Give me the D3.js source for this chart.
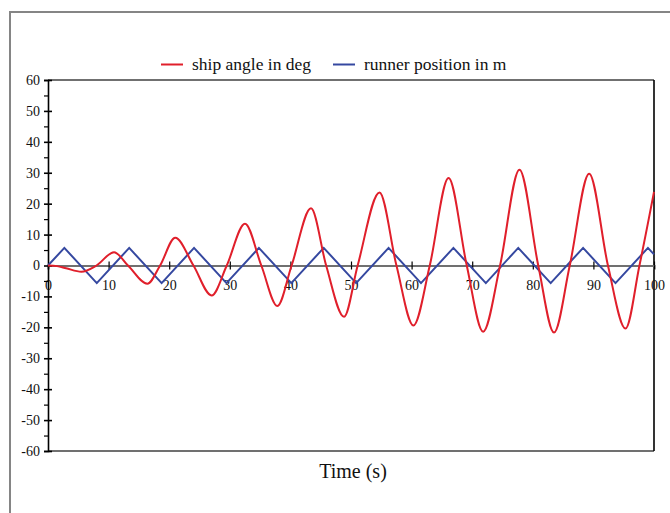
<!doctype html>
<html lang="en">
  <head>
    <meta charset="UTF-8" />
    <title>Ship angle and runner position</title>
    <script src="https://d3js.org/d3.v7.min.js"></script>
    <style>
      html,
      body {
        margin: 0;
        padding: 0;
        background: #fff;
        overflow: hidden;
      }
      svg {
        display: block;
        font-family: "Liberation Serif", "Times New Roman", serif;
      }
    </style>
  </head>
  <body>
    <svg id="chart" width="670" height="513"></svg>

    <script>
      // ship angle (deg): turning points and zero crossings
      const shipTime = [0, 1.5, 3, 5.5, 8, 10.9, 13.2, 16.4, 18.5, 21, 24, 27, 29.5, 32.5, 35.2, 37.85, 40.2, 43.4, 45.9, 48.85,
        51.1, 54.7, 57.5, 60.3, 63, 66.1, 69.1, 71.8, 74.6, 77.8, 80.9, 83.5, 86.1, 89.3, 92.4, 95.3, 97.6, 100];
      const shipAngle = [0, -0.2, -0.9, -2, 0, 4.3, 0, -5.9, 0, 9, 0, -9.7, 0, 13.5, 0, -13.1, 0, 18.5, 0, -16.6,
        0, 23.6, 0, -19.4, 0, 28.3, 0, -21.4, 0, 31, 0, -21.7, 0, 29.7, 0, -20.4, 0, 23.8];

      // runner position (m): triangle wave corners
      const runnerTime = [0, 2.7, 8.05, 13.4, 18.75, 24.1, 29.45, 34.8, 40.15, 45.5, 50.85, 56.2, 61.55, 66.9, 72.25, 77.6,
        82.95, 88.3, 93.65, 99.0, 100];
      const runnerPos = [0, 5.7, -5.7, 5.7, -5.7, 5.7, -5.7, 5.7, -5.7, 5.7, -5.7, 5.7, -5.7, 5.7, -5.7, 5.7,
        -5.7, 5.7, -5.7, 5.7, 3.6];

      const seriesNames = ["ship angle in deg", "runner position in m"];
      const seriesColors = ["#e01f2b", "#3548a0"];

      const xTicks = [0, 10, 20, 30, 40, 50, 60, 70, 80, 90, 100];
      const yTicks = [-60, -50, -40, -30, -20, -10, 0, 10, 20, 30, 40, 50, 60];
      const yMinor = [-55, -45, -35, -25, -15, -5, 5, 15, 25, 35, 45, 55];

      const svg = d3.select("#chart");

      // outer frame (runs off the right and bottom edge)
      svg.append("rect")
        .attr("x", 10)
        .attr("y", 12)
        .attr("width", 700)
        .attr("height", 540)
        .attr("fill", "none")
        .attr("stroke", "#858585")
        .attr("stroke-width", 2);

      const x = d3.scaleLinear().domain([0, 100]).range([48, 654]);
      const y = d3.scaleLinear().domain([-60, 60]).range([451, 80]);

      // top and bottom plot edges
      svg.append("line")
        .attr("x1", x(0)).attr("x2", x(100))
        .attr("y1", y(60)).attr("y2", y(60))
        .attr("stroke", "#707070").attr("stroke-width", 2);
      svg.append("line")
        .attr("x1", x(0)).attr("x2", x(100))
        .attr("y1", y(-60)).attr("y2", y(-60))
        .attr("stroke", "#707070").attr("stroke-width", 2);
      // right edge
      svg.append("line")
        .attr("x1", x(100)).attr("x2", x(100))
        .attr("y1", y(60)).attr("y2", y(-60))
        .attr("stroke", "#000").attr("stroke-width", 1.6);

      function styleLabels(g) {
        g.attr("font-family", null).attr("font-size", null);
        g.selectAll(".tick text")
          .style("font-family", "'Liberation Serif', 'Times New Roman', serif")
          .style("font-size", "14px")
          .attr("fill", "#111");
      }

      const plain = (d) => String(d); // ascii hyphen like the original

      // zero line with x ticks
      const xAxisDown = d3.axisBottom(x).tickValues(xTicks).tickSize(4).tickPadding(11).tickFormat(plain);
      const xAxisUp = d3.axisTop(x).tickValues(xTicks.slice(1)).tickSize(4).tickFormat("");

      const gx = svg.append("g").attr("transform", `translate(0,${y(0)})`).call(xAxisDown);
      gx.select(".domain").attr("stroke", "#707070").attr("stroke-width", 2.2);
      gx.selectAll(".tick line").attr("stroke", "#000").attr("stroke-width", 1.2);
      gx.selectAll(".tick").filter((d) => d === 0).select("line").remove();
      styleLabels(gx);

      const gxu = svg.append("g").attr("transform", `translate(0,${y(0)})`).call(xAxisUp);
      gxu.select(".domain").remove();
      gxu.selectAll(".tick line").attr("stroke", "#000").attr("stroke-width", 1.2);

      // y axis
      const gy = svg.append("g").attr("transform", `translate(${x(0)},0)`)
        .call(d3.axisLeft(y).tickValues(yTicks).tickSize(4).tickPadding(4).tickFormat(plain));
      gy.select(".domain").attr("stroke", "#000").attr("stroke-width", 1.6);
      gy.selectAll(".tick line").attr("stroke", "#000").attr("stroke-width", 1.6);
      styleLabels(gy);

      const gyr = svg.append("g").attr("transform", `translate(${x(0)},0)`)
        .call(d3.axisRight(y).tickValues(yTicks).tickSize(4).tickFormat(""));
      gyr.select(".domain").remove();
      gyr.selectAll(".tick line").attr("stroke", "#000").attr("stroke-width", 1.6);

      const gym = svg.append("g").attr("transform", `translate(${x(0)},0)`)
        .call(d3.axisLeft(y).tickValues(yMinor).tickSize(4).tickFormat(""));
      gym.select(".domain").remove();
      gym.selectAll(".tick line").attr("stroke", "#000").attr("stroke-width", 1.2);

      // series
      const shipData = shipTime.map((t, i) => [t, shipAngle[i]]);
      const runnerData = runnerTime.map((t, i) => [t, runnerPos[i]]);

      const smooth = d3.line()
        .x((d) => x(d[0]))
        .y((d) => y(d[1]))
        .curve(d3.curveMonotoneX);
      const straight = d3.line()
        .x((d) => x(d[0]))
        .y((d) => y(d[1]));

      svg.append("path")
        .datum(runnerData)
        .attr("d", straight)
        .attr("fill", "none")
        .attr("stroke", seriesColors[1])
        .attr("stroke-width", 2);

      svg.append("path")
        .datum(shipData)
        .attr("d", smooth)
        .attr("fill", "none")
        .attr("stroke", seriesColors[0])
        .attr("stroke-width", 2);

      // legend
      const legendX = [161, 333];
      const legend = svg.append("g");
      seriesNames.forEach((name, i) => {
        legend.append("line")
          .attr("x1", legendX[i]).attr("x2", legendX[i] + 22)
          .attr("y1", 64.5).attr("y2", 64.5)
          .attr("stroke", seriesColors[i]).attr("stroke-width", 2);
        legend.append("text")
          .attr("x", legendX[i] + 31)
          .attr("y", 70)
          .style("font-size", "17.5px")
          .attr("fill", "#111")
          .text(name);
      });

      // axis title
      svg.append("text")
        .attr("x", 353)
        .attr("y", 478)
        .attr("text-anchor", "middle")
        .style("font-size", "20px")
        .attr("fill", "#111")
        .text("Time (s)");
    </script>
  </body>
</html>
